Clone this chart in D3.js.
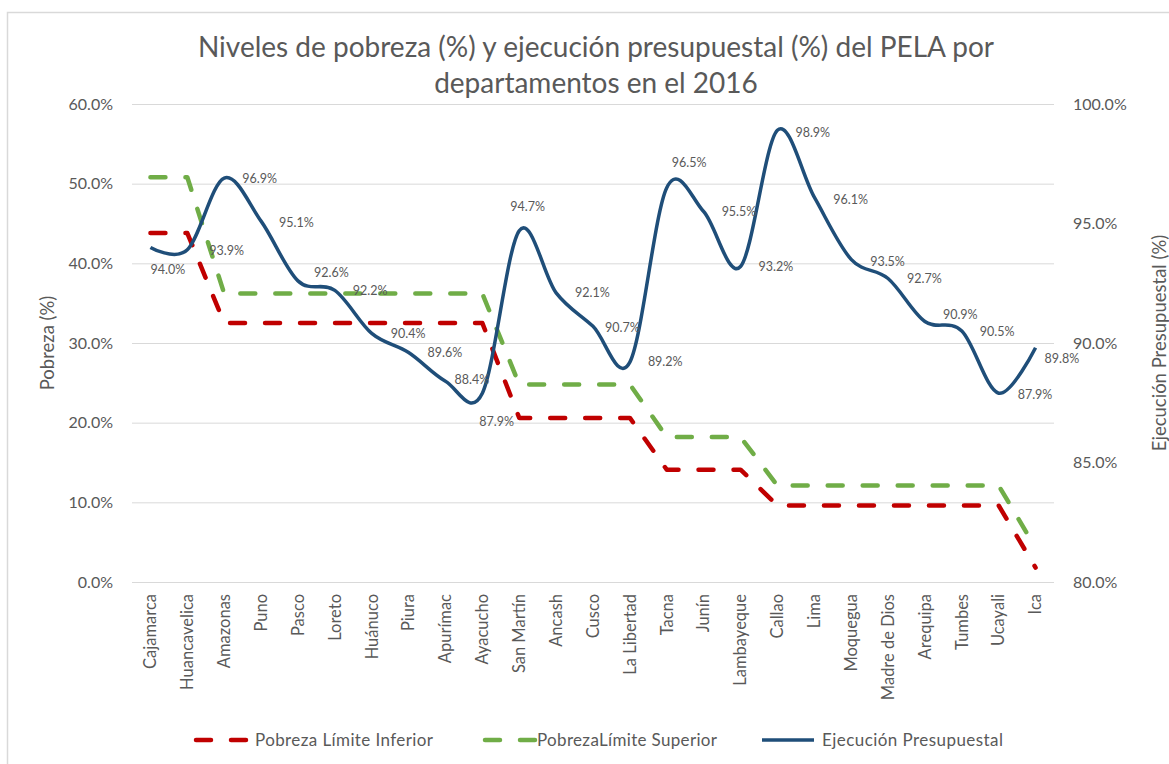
<!DOCTYPE html>
<html>
<head>
<meta charset="utf-8">
<script src="https://cdn.jsdelivr.net/npm/d3@7"></script>
<style>
  body { margin: 0; background: #fff; }
  text { font-family: Lato, "Open Sans", sans-serif; fill: #595959; }
</style>
</head>
<body>
<svg width="1169" height="764"></svg>
<script>
var departamentos = ["Cajamarca","Huancavelica","Amazonas","Puno","Pasco","Loreto","Huánuco","Piura","Apurímac","Ayacucho","San Martín","Ancash","Cusco","La Libertad","Tacna","Junín","Lambayeque","Callao","Lima","Moquegua","Madre de Dios","Arequipa","Tumbes","Ucayali","Ica"];
var limiteInferior = [43.8,43.8,32.5,32.5,32.5,32.5,32.5,32.5,32.5,32.5,20.6,20.6,20.6,20.6,14.1,14.1,14.1,9.6,9.6,9.6,9.6,9.6,9.6,9.6,1.8];
var limiteSuperior = [50.8,50.8,36.2,36.2,36.2,36.2,36.2,36.2,36.2,36.2,24.8,24.8,24.8,24.8,18.2,18.2,18.2,12.1,12.1,12.1,12.1,12.1,12.1,12.1,4.3];
var ejecucion = [94.0,93.9,96.9,95.1,92.6,92.2,90.4,89.6,88.4,87.9,94.7,92.1,90.7,89.2,96.5,95.5,93.2,98.9,96.1,93.5,92.7,90.9,90.5,87.9,89.8];
var ticksPobreza = [0,10,20,30,40,50,60];
var ticksEjecucion = [80,85,90,95,100];

// label nudges for the data labels (dx from point, dy from point)
var labelOffsets = [[0,22],[22,1],[18,1],[18,2],[16,-8],[18,0],[19,0],[19,0],[9,-2],[-3,28],[-9,-24],[19,0],[12,1],[18,0],[5,-25],[18,0],[18,0],[18,2],[19,2],[19,2],[19,0],[18,-7],[18,1],[19,1],[9,11]];

var svg = d3.select("svg"),
    margin = {top: 104, right: 115, bottom: 182, left: 132},
    width = 1169 - margin.left - margin.right,
    height = 764 - margin.top - margin.bottom,
    g = svg.append("g").attr("transform", "translate(" + margin.left + "," + margin.top + ")");

// chart border
svg.append("rect")
    .attr("x", 7.5).attr("y", 12.5)
    .attr("width", 1180).attr("height", 800)
    .attr("fill", "none").attr("stroke", "#d9d9d9").attr("stroke-width", 1.5);

var x = d3.scaleBand().domain(departamentos).range([0, width]);
var yL = d3.scaleLinear().domain([0, 60]).range([height, 0]);
var yR = d3.scaleLinear().domain([80, 100]).range([height, 0]);
var cx = function(i) { return x(departamentos[i]) + x.bandwidth() / 2; };

// gridlines
g.append("g").selectAll("line")
  .data(ticksPobreza)
  .enter().append("line")
    .attr("x1", 0).attr("x2", width)
    .attr("y1", function(d) { return yL(d) + 0.5; })
    .attr("y2", function(d) { return yL(d) + 0.5; })
    .attr("stroke", "#d9d9d9").attr("stroke-width", 1);

var fmt = function(d) { return d.toFixed(1) + "%"; };

g.append("g")
    .call(d3.axisLeft(yL).tickValues(ticksPobreza).tickFormat(fmt).tickSize(0).tickPadding(19))
    .call(function(a) { a.select(".domain").remove(); })
    .selectAll("text").style("font-size", "16px").attr("fill", "#595959").style("font-family", "Lato");

g.append("g")
    .attr("transform", "translate(" + width + ",0)")
    .call(d3.axisRight(yR).tickValues(ticksEjecucion).tickFormat(fmt).tickSize(0).tickPadding(19))
    .call(function(a) { a.select(".domain").remove(); })
    .selectAll("text").style("font-size", "16px").attr("fill", "#595959").style("font-family", "Lato");

g.append("g")
    .attr("transform", "translate(0," + height + ")")
    .call(d3.axisBottom(x).tickSize(0))
    .call(function(a) { a.select(".domain").remove(); })
  .selectAll("text")
    .attr("transform", "rotate(-90)")
    .attr("x", -12).attr("y", 0).attr("dy", "0.35em")
    .style("text-anchor", "end")
    .style("font-size", "16.5px").attr("fill", "#595959").style("font-family", "Lato");

// lines
var lineL = d3.line().x(function(d, i) { return cx(i); }).y(function(d) { return yL(d); });
var lineR = d3.line().curve(d3.curveCardinal.tension(0))
    .x(function(d, i) { return cx(i); }).y(function(d) { return yR(d); });

g.append("path").datum(limiteInferior)
    .attr("d", lineL).attr("fill", "none")
    .attr("stroke", "#c00000").attr("stroke-width", 4.5)
    .attr("stroke-dasharray", "15,20").attr("stroke-linecap", "round").attr("stroke-linejoin", "round");

g.append("path").datum(limiteSuperior)
    .attr("d", lineL).attr("fill", "none")
    .attr("stroke", "#70ad47").attr("stroke-width", 4.5)
    .attr("stroke-dasharray", "15,20").attr("stroke-linecap", "round").attr("stroke-linejoin", "round");

g.append("path").datum(ejecucion)
    .attr("d", lineR).attr("fill", "none")
    .attr("stroke", "#1f4e79").attr("stroke-width", 3.5).attr("stroke-linejoin", "round");

// data labels
g.append("g").selectAll("text")
  .data(ejecucion)
  .enter().append("text")
    .attr("x", function(d, i) { return cx(i) + labelOffsets[i][0]; })
    .attr("y", function(d, i) { return yR(d) + labelOffsets[i][1]; })
    .attr("dy", "0.35em")
    .style("font-size", "12.5px").attr("fill", "#404040")
    .text(fmt);

// axis titles
svg.append("text")
    .attr("transform", "translate(48," + (margin.top + height / 2) + ") rotate(-90)")
    .attr("text-anchor", "middle").attr("dy", "0.35em")
    .style("font-size", "18.5px")
    .text("Pobreza (%)");

svg.append("text")
    .attr("transform", "translate(1160," + (margin.top + height / 2) + ") rotate(-90)")
    .attr("text-anchor", "middle").attr("dy", "0.35em")
    .style("font-size", "18.5px")
    .text("Ejecución Presupuestal (%)");

// title
var title = svg.append("text").attr("text-anchor", "middle").style("font-size", "28px");
title.append("tspan").attr("x", 596).attr("y", 57).text("Niveles de pobreza (%) y ejecución presupuestal (%) del PELA por");
title.append("tspan").attr("x", 596).attr("y", 93).text("departamentos en el 2016");

// legend
var legendItems = [
  {name: "Pobreza Límite Inferior", color: "#c00000", dash: "15,20", w: 4.5, x: 196, tx: 59, len: 178},
  {name: "PobrezaLímite Superior", color: "#70ad47", dash: "15,20", w: 4.5, x: 485, tx: 52, len: 180},
  {name: "Ejecución Presupuestal", color: "#1f4e79", dash: null, w: 3.5, x: 762, tx: 60, len: 181}
];
var legend = svg.append("g").selectAll("g")
  .data(legendItems)
  .enter().append("g")
    .attr("transform", function(d) { return "translate(" + d.x + ",740)"; });

legend.append("line")
    .attr("x1", 0).attr("x2", 52).attr("y1", 0).attr("y2", 0)
    .attr("stroke", function(d) { return d.color; })
    .attr("stroke-width", function(d) { return d.w; })
    .attr("stroke-dasharray", function(d) { return d.dash; })
    .attr("stroke-linecap", function(d) { return d.dash ? "round" : "butt"; });

legend.append("text")
    .attr("x", function(d) { return d.tx; }).attr("dy", "0.35em")
    .style("font-size", "17px")
    .attr("textLength", function(d) { return d.len; })
    .text(function(d) { return d.name; });
</script>
</body>
</html>
